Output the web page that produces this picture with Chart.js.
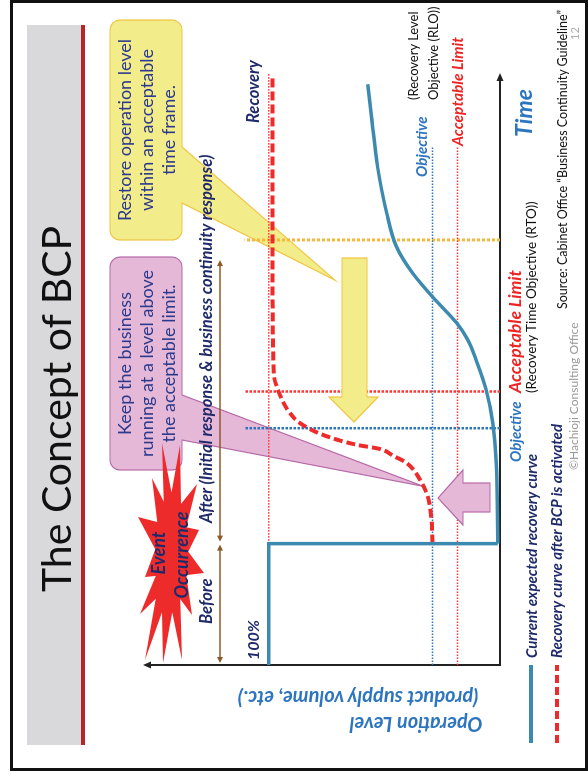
<!DOCTYPE html>
<html>
<head>
<meta charset="utf-8">
<script src="https://cdn.jsdelivr.net/npm/chart.js@4.4.0/dist/chart.umd.min.js"></script>
<style>
html, body { margin: 0; padding: 0; background: #fff; width: 588px; height: 774px; overflow: hidden; }
/* the slide is landscape, the photo shows it turned a quarter to the left */
#slide { position: absolute; left: 0; top: 0; width: 774px; height: 588px;
         transform-origin: 0 0; transform: translateY(774px) rotate(-90deg);
         font-family: Lato, "Open Sans", sans-serif; }
#slide canvas { position: absolute; left: 0; top: 0; }
#frame { position: absolute; left: 3px; top: 10px; width: 771px; height: 578px; border: 3px solid #111; box-sizing: border-box; }
#band { position: absolute; left: 29px; top: 27px; width: 720px; height: 54px; background: #d9d9db; border-bottom: 4px solid #b3272a; }
.t { position: absolute; white-space: nowrap; line-height: 1; transform: translateY(-50%); }
.c { transform: translate(-50%, -50%); }
.rot { transform: translate(-50%, -50%) rotate(-90deg); }
.bi { font-weight: 700; font-style: italic; }
.navy { color: #1f2a6b; }
.blue { color: #2e75c0; }
.red { color: #ee2424; }
.box { position: absolute; display: flex; align-items: center; justify-content: center; text-align: center;
       font-size: 18px; line-height: 22px; color: #2b3a8c; }
</style>
</head>
<body>
<div id="slide">
  <div id="frame"></div>
  <div id="band"></div>
  <canvas id="bcp" width="774" height="588"></canvas>

  <div class="t" style="left:182px;top:55px;font-size:41px;color:#111;">The Concept of BCP</div>

  <div class="box" style="left:534px;top:110px;width:220px;height:72px;">Restore operation level<br>within an acceptable<br>time frame.</div>
  <div class="box" style="left:304px;top:110px;width:213px;height:72px;">Keep the business<br>running at a level above<br>the acceptable limit.</div>

  <div class="t c bi navy" style="left:221px;top:158px;font-size:18px;">Event</div>
  <div class="t c bi navy" style="left:219px;top:181px;font-size:18px;">Occurrence</div>
  <div class="t bi navy" style="left:150px;top:206px;font-size:16.5px;">Before</div>
  <div class="t bi navy" style="left:251px;top:206px;font-size:16.5px;">After (Initial response &amp; business continuity response)</div>
  <div class="t bi navy" style="left:114px;top:253px;font-size:16px;">100%</div>
  <div class="t bi navy" style="left:651px;top:253px;font-size:16.5px;">Recovery</div>

  <div class="t bi blue" style="left:597px;top:421px;font-size:15px;">Objective</div>
  <div class="t bi red" style="left:628px;top:458px;font-size:15.5px;">Acceptable Limit</div>
  <div class="t" style="left:674px;top:413px;font-size:13px;color:#111;">(Recovery Level</div>
  <div class="t" style="left:674px;top:433px;font-size:13px;color:#111;">Objective (RLO))</div>

  <div class="t bi blue" style="left:312px;top:515px;font-size:15px;">Objective</div>
  <div class="t bi red" style="left:381px;top:515px;font-size:17.5px;">Acceptable Limit</div>
  <div class="t" style="left:381px;top:532px;font-size:13.5px;color:#111;">(Recovery Time Objective (RTO))</div>
  <div class="t bi blue" style="left:637px;top:523px;font-size:23px;">Time</div>

  <div class="t bi navy" style="left:116px;top:531px;font-size:15px;">Current expected recovery curve</div>
  <div class="t bi navy" style="left:116px;top:556px;font-size:15px;">Recovery curve after BCP is activated</div>

  <div class="t" style="right:10px;top:563px;font-size:12.5px;color:#111;">Source: Cabinet Office “Business Continuity Guideline”</div>
  <div class="t" style="left:734px;top:574px;font-size:11px;color:#aaa;">12</div>
  <div class="t" style="left:304px;top:574px;font-size:12px;color:#999;">©Hachioji Consulting Office</div>

  <div class="t rot bi blue" style="left:49px;top:416px;font-size:20px;">Operation Level</div>
  <div class="t rot bi blue" style="left:75px;top:358px;font-size:20px;">(product supply volume, etc.)</div>
</div>

<script>
// time runs 0..100 along the time axis, operation level in %
const eventTime = 20.5;
const rtoObjectiveTime = 40.0;
const rtoLimitTime = 46.2;
const currentRecoveryTime = 71.8;
const levelLineEnd = 87.5;
const timeEnd = 100;
const afterEnd = 68.4;

const fullLevel = 100;
const rloObjectiveLevel = 29.2;
const rloLimitLevel = 18.4;
const guideTop = 110.4;

// current expected recovery curve: the drop at the event, then the slow climb
const stepTime = [0, 20.5, 20.5];
const stepLevel = [100, 100, 1];
const curveTime = [20.5, 34.1, 40.9, 46.5, 51.5, 54.9, 57.8, 62.2, 66.2, 70.6, 76.4, 84.1, 92.6, 98.1];
const curveLevel = [1, 1.6, 3.1, 6, 10.3, 13.9, 18.8, 29.2, 37.8, 44.7, 49, 52.9, 55.5, 57.2];

// recovery curve after BCP is activated
const bcpTime = [20.5, 24.5, 27.2, 29.1, 30.9, 32.8, 34.3, 35.3, 36.5, 37.2, 38.9, 40.9, 42.6, 46.5, 49.2, 66, 99.3];
const bcpLevel = [29.2, 29.6, 30.5, 31.8, 34, 37, 41, 46, 52, 62, 76.7, 86.6, 90.9, 96, 97.8, 98.3, 98.3];

const BLUE = '#3d8ab0';
const RED = '#ee2b2b';
const DOT_BLUE = '#2e75c0';
const DOT_RED = '#ff3535';
const DOT_YELLOW = '#f5b73c';

const pts = (xs, ys) => xs.map((v, i) => ({ x: v, y: ys[i] }));

function guide(xs, ys, color, width, dash) {
    return { data: pts(xs, ys), borderColor: color, borderWidth: width, borderDash: dash,
             borderCapStyle: 'butt', tension: 0 };
}

function poly(ctx, p, fill, stroke, lw) {
    ctx.beginPath();
    p.forEach(([a, b], i) => i ? ctx.lineTo(a, b) : ctx.moveTo(a, b));
    ctx.closePath();
    if (fill) { ctx.fillStyle = fill; ctx.fill(); }
    if (stroke) { ctx.strokeStyle = stroke; ctx.lineWidth = lw || 1; ctx.stroke(); }
}

// rounded box with a pointer coming out of its lower edge
function callout(ctx, l, t, r, b, rad, base1, tip, base2, fill, stroke) {
    ctx.beginPath();
    ctx.moveTo(l + rad, t);
    ctx.lineTo(r - rad, t); ctx.arcTo(r, t, r, t + rad, rad);
    ctx.lineTo(r, b - rad); ctx.arcTo(r, b, r - rad, b, rad);
    ctx.lineTo(base2, b); ctx.lineTo(tip[0], tip[1]); ctx.lineTo(base1, b);
    ctx.lineTo(l + rad, b); ctx.arcTo(l, b, l, b - rad, rad);
    ctx.lineTo(l, t + rad); ctx.arcTo(l, t, l + rad, t, rad);
    ctx.closePath();
    ctx.fillStyle = fill; ctx.fill();
    ctx.strokeStyle = stroke; ctx.lineWidth = 1.2; ctx.stroke();
}

function head(ctx, x, y, dx, dy, len, half) {
    // filled arrow head with its tip at (x, y), pointing along (dx, dy)
    const px = -dy, py = dx;
    poly(ctx, [[x, y], [x - dx * len + px * half, y - dy * len + py * half],
               [x - dx * len - px * half, y - dy * len - py * half]], ctx.fillStyle);
}

const decor = {
    id: 'decor',
    beforeDatasetsDraw(chart) {
        const { ctx, scales: { x, y } } = chart;
        ctx.save();

        // callouts sit under the curves
        callout(ctx, 534, 110, 754, 182, 10, 571,
                [x.getPixelForValue(65.0), y.getPixelForValue(71.3)], 627, '#f3ec8a', '#efc541');
        callout(ctx, 304, 110, 517, 182, 10, 334,
                [x.getPixelForValue(30.2), y.getPixelForValue(33.3)], 379, '#e6b8d8', '#b66aa8');

        // event starburst
        const c = [222, 172];
        const tips = [[329, 180], [290, 197], [244, 199], [201, 204], [159, 192], [114, 182], [111, 163],
                      [114, 145], [160, 140], [197, 145], [257, 138], [296, 152], [331, 162]];
        const star = [];
        tips.forEach((p, i) => {
            const q = tips[(i + 1) % tips.length];
            star.push(p);
            const mx = (p[0] + q[0]) / 2, my = (p[1] + q[1]) / 2;
            star.push([c[0] + (mx - c[0]) * 0.55, c[1] + (my - c[1]) * 0.55]);
        });
        poly(ctx, star, '#ee2b2b');

        // axes with arrows
        const x0 = x.getPixelForValue(0), y0 = y.getPixelForValue(0);
        const yTop = y.getPixelForValue(154.3), xEnd = x.getPixelForValue(timeEnd);
        ctx.strokeStyle = '#222'; ctx.fillStyle = '#222'; ctx.lineWidth = 2;
        ctx.beginPath(); ctx.moveTo(x0, y0 + 1); ctx.lineTo(x0, yTop + 6);
        ctx.moveTo(x0 - 1, y0); ctx.lineTo(xEnd - 6, y0); ctx.stroke();
        head(ctx, x0, yTop, 0, -1, 8, 3.5);
        head(ctx, xEnd, y0, 1, 0, 8, 3.5);
        ctx.restore();
    },
    afterDatasetsDraw(chart) {
        const { ctx, scales: { x } } = chart;
        ctx.save();

        // block arrows
        poly(ctx, [[516, 342], [377, 342], [377, 329], [352, 354], [377, 378], [377, 367], [516, 367]],
             '#f3ec8a', '#efc541', 1.2);
        poly(ctx, [[262, 490], [262, 463], [249, 463], [276, 438], [304, 463], [291, 463], [291, 490]],
             '#e6b8d8', '#b66aa8', 1.2);

        // before / after brackets
        const by = 220, e = x.getPixelForValue(eventTime);
        const spans = [[x.getPixelForValue(0) + 2, e - 1], [e + 2, x.getPixelForValue(afterEnd)]];
        ctx.strokeStyle = '#8b5a2b'; ctx.fillStyle = '#8b5a2b'; ctx.lineWidth = 1.5;
        spans.forEach(([a, b]) => {
            ctx.beginPath(); ctx.moveTo(a + 4, by); ctx.lineTo(b - 4, by); ctx.stroke();
            head(ctx, a, by, -1, 0, 6, 3);
            head(ctx, b, by, 1, 0, 6, 3);
        });

        // legend marks
        ctx.lineCap = 'butt';
        ctx.strokeStyle = BLUE; ctx.lineWidth = 4;
        ctx.beginPath(); ctx.moveTo(31, 531); ctx.lineTo(109, 531); ctx.stroke();
        ctx.strokeStyle = RED; ctx.setLineDash([8, 4]);
        ctx.beginPath(); ctx.moveTo(31, 557); ctx.lineTo(109, 557); ctx.stroke();
        ctx.restore();
    }
};

new Chart(document.getElementById('bcp'), {
    type: 'line',
    data: {
        datasets: [
            { label: 'Current expected recovery curve', data: pts(curveTime, curveLevel),
              borderColor: BLUE, borderWidth: 3.5, cubicInterpolationMode: 'monotone' },
            { label: 'Current expected recovery curve (drop)', data: pts(stepTime, stepLevel),
              borderColor: BLUE, borderWidth: 3.5, tension: 0, borderJoinStyle: 'miter' },
            { label: 'Recovery curve after BCP is activated', data: pts(bcpTime, bcpLevel),
              borderColor: RED, borderWidth: 4, borderDash: [9, 4], cubicInterpolationMode: 'monotone' },
            guide([eventTime, timeEnd], [fullLevel, fullLevel], DOT_RED, 1.5, [1.5, 1.5]),
            guide([0, levelLineEnd], [rloObjectiveLevel, rloObjectiveLevel], DOT_BLUE, 1.5, [1.5, 1.5]),
            guide([0, levelLineEnd], [rloLimitLevel, rloLimitLevel], DOT_RED, 1.5, [1.5, 1.5]),
            guide([rtoObjectiveTime, rtoObjectiveTime], [0, guideTop], DOT_BLUE, 2.5, [2.5, 1.5]),
            guide([rtoLimitTime, rtoLimitTime], [0, guideTop], DOT_RED, 2.5, [2.5, 1.5]),
            guide([currentRecoveryTime, currentRecoveryTime], [0, guideTop], DOT_YELLOW, 3, [3, 2])
        ]
    },
    options: {
        responsive: false,
        animation: false,
        layout: { padding: { left: 109, top: 153, right: 73, bottom: 88 } },
        elements: { point: { radius: 0 }, line: { fill: false } },
        scales: {
            x: { type: 'linear', min: 0, max: timeEnd, display: false },
            y: { type: 'linear', min: 0, max: 150, display: false }
        },
        plugins: { legend: { display: false }, tooltip: { enabled: false } }
    },
    plugins: [decor]
});
</script>
</body>
</html>
